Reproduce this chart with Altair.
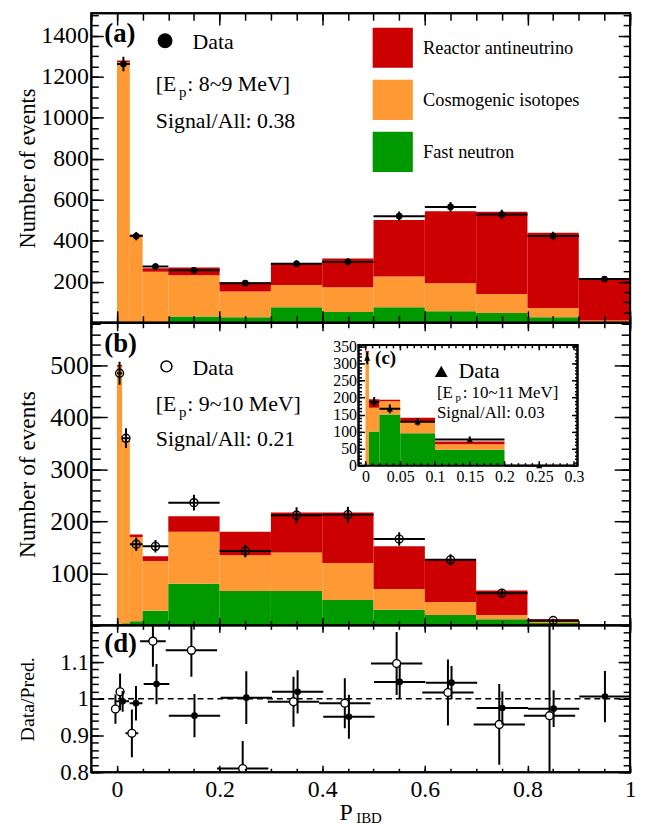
import altair as alt
import pandas as pd

SERIF = "Liberation Serif"

# ---------------- panel (a): E_p 8~9 MeV ----------------
edges_a = [0.0, 0.025, 0.05, 0.1, 0.2, 0.3, 0.4, 0.5, 0.6, 0.7, 0.8, 0.9, 1.0]
fast_a = [3, 4, 4, 30, 27, 76, 52, 76, 56, 48, 27, 4]
cosmo_a = [1268, 419, 245, 202, 125, 108, 121, 150, 137, 92, 45, 7]
reactor_a = [8, 8, 17, 38, 45, 105, 140, 275, 351, 401, 367, 202]
data_a = [1262, 423, 274, 256, 193, 288, 297, 520, 565, 528, 423, 213]
err_a = [35, 20, 16, 16, 14, 17, 17, 23, 24, 23, 21, 15]

# ---------------- panel (b): E_p 9~10 MeV ----------------
edges_b = [0.0, 0.01, 0.025, 0.05, 0.1, 0.2, 0.3, 0.4, 0.5, 0.6, 0.7, 0.8, 0.9, 1.0]
fast_b = [3, 4, 8, 28, 80, 66, 66, 49, 30, 20, 12, 4.5, 0]
cosmo_b = [495, 348, 162, 96, 100, 69, 74, 71, 40, 25, 8, 2, 0]
reactor_b = [3, 3, 5, 9, 30, 45, 77, 97, 82, 81, 47, 5.5, 0.5]
data_b = [485, 360, 156, 152, 236, 143, 212, 213, 166, 126, 62, 9.5]
err_b = [22, 19, 13, 12, 15, 12, 15, 15, 13, 11, 8, 3]

# ---------------- inset (c): E_p 10~11 MeV ----------------
edges_c = [0.0, 0.005, 0.02, 0.05, 0.1, 0.2, 0.3]
fast_c = [0, 100, 150, 95, 47, 0]
cosmo_c = [333, 70, 39, 36, 16, 0]
reactor_c = [4, 25, 5, 10, 8, 0]
data_c = [316, 188, 167, 129, 77, 0]
err_c = [18, 14, 13, 11, 9, 1]

# ---------------- panel (d): Data / Prediction ----------------
ratio_a_x = [0.011, 0.037, 0.077, 0.151, 0.252, 0.352, 0.452, 0.551, 0.652, 0.751, 0.851, 0.951]
ratio_a_xerr = [0.0125, 0.0125, 0.025, 0.05, 0.05, 0.05, 0.05, 0.05, 0.05, 0.05, 0.05, 0.05]
ratio_a = [0.993, 0.988, 1.040, 0.954, 1.003, 1.019, 0.951, 1.046, 1.044, 0.975, 0.973, 1.006]
ratio_a_err = [0.028, 0.047, 0.055, 0.059, 0.072, 0.059, 0.06, 0.046, 0.045, 0.045, 0.05, 0.07]

ratio_b_x = [-0.003, 0.006, 0.029, 0.070, 0.145, 0.245, 0.344, 0.444, 0.545, 0.645, 0.745, 0.843]
ratio_b_xerr = [0.005, 0.0075, 0.0125, 0.025, 0.05, 0.05, 0.05, 0.05, 0.05, 0.05, 0.05, 0.05]
ratio_b = [0.972, 1.019, 0.906, 1.157, 1.132, 0.810, 0.992, 0.988, 1.096, 1.017, 0.930, 0.954]
ratio_b_err = [0.04, 0.05, 0.065, 0.07, 0.072, 0.075, 0.068, 0.068, 0.086, 0.09, 0.11, 0.32]
ratio_ref = [1.0]

COMP = ["Reactor antineutrino", "Cosmogenic isotopes", "Fast neutron"]
COLORS = ["#cc0000", "#ff9933", "#009900"]

# tick values
x_major = [0, 0.2, 0.4, 0.6, 0.8, 1.0]
x_minor = [round(-0.05 + 0.05 * i, 2) for i in range(22)]
ya_major = [200, 400, 600, 800, 1000, 1200, 1400]
ya_minor = list(range(0, 1501, 50))
yb_major = [100, 200, 300, 400, 500]
yb_minor = list(range(0, 581, 20))
yd_major = [0.8, 0.9, 1.0, 1.1]
yd_minor = [round(0.8 + 0.02 * i, 2) for i in range(21)]
xc_major = [0, 0.05, 0.1, 0.15, 0.2, 0.25, 0.3]
xc_minor = [round(0.01 * i, 2) for i in range(-1, 31)]
yc_major = [0, 50, 100, 150, 200, 250, 300, 350]
yc_minor = list(range(0, 351, 10))

# ---------------- layout ----------------
W = 543
H_A, H_B, H_D = 312, 305, 148
XDOM = [-0.05, 1.0]
YDOM_A = [0, 1510]
YDOM_B = [0, 582]
YDOM_D = [0.8, 1.2]
XDOM_C = [-0.01, 0.305]
YDOM_C = [0, 355]
XR_C = [269.3, 490]
YR_C = [144, 22.3]
TITLE_X = -64.2

DUMMY = pd.DataFrame({"d": [0]})


def scale(dom, rng=None):
    if rng is None:
        return alt.Scale(domain=dom, nice=False, zero=False)
    return alt.Scale(domain=dom, range=rng, nice=False, zero=False)


def tax(orient, values, size, extra=0, **kw):
    labels = kw.pop("labels", False)
    return alt.Axis(orient=orient, values=values, tickSize=size, offset=-(size + extra),
                    labels=labels, domain=False, grid=False, ticks=True, tickColor="black",
                    tickWidth=1.5, zindex=2, **kw)


def lab_kw(fs, pad, fmt):
    return dict(labels=True, labelFont=SERIF, labelFontSize=fs, labelColor="black",
                labelPadding=pad, labelFlush=False, labelOverlap=False, format=fmt)


def carrier(xsc, ysc, xdom, ydom, xaxis, yaxis, ytitle=None):
    df = pd.DataFrame({"ax": [xdom[0]], "ay": [ydom[0]]})
    return alt.Chart(df).mark_point(opacity=0).encode(
        x=alt.X("ax:Q", scale=xsc, axis=xaxis, title=None),
        y=alt.Y("ay:Q", scale=ysc, axis=yaxis, title=ytitle),
    )


def frame(xsc, ysc, xdom, ydom, white=False):
    df = pd.DataFrame({"x0": [xdom[0]], "x1": [xdom[1]], "y0": [ydom[0]], "y1": [ydom[1]]})
    if white:
        m = alt.Chart(df).mark_rect(fill="white", stroke="black", strokeWidth=2)
    else:
        m = alt.Chart(df).mark_rect(fillOpacity=0, stroke="black", strokeWidth=2)
    return m.encode(x=alt.X("x0:Q", scale=xsc, axis=None), x2="x1",
                    y=alt.Y("y0:Q", scale=ysc, axis=None), y2="y1")


def bars(edges, fast, cosmo, reactor, xsc, ysc, legend=None):
    rows = []
    for i in range(len(fast)):
        lo, hi = edges[i], edges[i + 1]
        t1 = fast[i]
        t2 = t1 + cosmo[i]
        t3 = t2 + reactor[i]
        rows.append(dict(x0=lo, x1=hi, y0=0, y1=t1, comp=COMP[2]))
        rows.append(dict(x0=lo, x1=hi, y0=t1, y1=t2, comp=COMP[1]))
        rows.append(dict(x0=lo, x1=hi, y0=t2, y1=t3, comp=COMP[0]))
    df = pd.DataFrame(rows)
    return alt.Chart(df).mark_rect(clip=True).encode(
        x=alt.X("x0:Q", scale=xsc, axis=None), x2="x1",
        y=alt.Y("y0:Q", scale=ysc, axis=None), y2="y1",
        color=alt.Color("comp:N", scale=alt.Scale(domain=COMP, range=COLORS), legend=legend),
    )


def points(xs, xerr, vals, errs, xsc, ysc, point_kw):
    df = pd.DataFrame({
        "x": xs, "xlo": [a - b for a, b in zip(xs, xerr)], "xhi": [a + b for a, b in zip(xs, xerr)],
        "y": vals, "ylo": [a - b for a, b in zip(vals, errs)], "yhi": [a + b for a, b in zip(vals, errs)],
    })
    h = alt.Chart(df).mark_rule(color="black", strokeWidth=2, clip=True).encode(
        x=alt.X("xlo:Q", scale=xsc, axis=None), x2="xhi", y=alt.Y("y:Q", scale=ysc, axis=None))
    v = alt.Chart(df).mark_rule(color="black", strokeWidth=2, clip=True).encode(
        x=alt.X("x:Q", scale=xsc, axis=None), y=alt.Y("ylo:Q", scale=ysc, axis=None), y2="yhi")
    p = alt.Chart(df).mark_point(clip=True, opacity=1, **point_kw).encode(
        x=alt.X("x:Q", scale=xsc, axis=None), y=alt.Y("y:Q", scale=ysc, axis=None))
    return [h, v, p]


def hist_points(edges, vals, errs, xsc, ysc, point_kw):
    n = len(vals)
    xs = [(edges[i] + edges[i + 1]) / 2 for i in range(n)]
    xe = [(edges[i + 1] - edges[i]) / 2 for i in range(n)]
    return points(xs, xe, vals, errs, xsc, ysc, point_kw)


def txt(s, x, y, size, weight="normal", baseline="alphabetic", align="left"):
    return alt.Chart(DUMMY).mark_text(text=s, font=SERIF, fontSize=size, fontWeight=weight,
                                      color="black", align=align, baseline=baseline).encode(
        x=alt.value(x), y=alt.value(y))


def sym(x, y, shape, size, filled, sw=1.5):
    if filled:
        m = alt.Chart(DUMMY).mark_point(shape=shape, size=size, filled=True, color="black", opacity=1)
    else:
        m = alt.Chart(DUMMY).mark_point(shape=shape, size=size, filled=False, color="black",
                                        strokeWidth=sw, opacity=1)
    return m.encode(x=alt.value(x), y=alt.value(y))


def ep_label(x, y, size, sub, rest, p_dx, rest_dx, sub_dy):
    return [txt("[E", x, y, size), txt("p", x + p_dx, y + sub_dy, sub), txt(rest, x + rest_dx, y, size)]


def frame_axes(xsc, ysc, ydom, H, ymaj, ymin, ysz, xsz, ylab, ytitle, ytfs, xlab=None):
    maj_y = tax("left", ymaj, ysz[0], **ylab,
                titleX=TITLE_X - ysz[0], titleY=H / 2, titleAngle=-90, titleAlign="center",
                titleBaseline="middle", titleFont=SERIF, titleFontSize=ytfs,
                titleFontWeight="normal", titleColor="black")
    bx = tax("bottom", x_major, xsz[0], **(xlab or {}))
    return [
        carrier(xsc, ysc, XDOM, ydom, bx, maj_y, ytitle),
        carrier(xsc, ysc, XDOM, ydom, tax("bottom", x_minor, xsz[1]), tax("left", ymin, ysz[1])),
        carrier(xsc, ysc, XDOM, ydom, tax("top", x_major, xsz[0]), tax("right", ymaj, ysz[0])),
        carrier(xsc, ysc, XDOM, ydom, tax("top", x_minor, xsz[1]), tax("right", ymin, ysz[1])),
    ]


# ================= panel (a) =================
xs_main = scale(XDOM)
ys_a = scale(YDOM_A)
legend_a = alt.Legend(orient="none", legendX=283.3, legendY=14.3, title=None, symbolType="square",
                      symbolSize=1640, symbolStrokeWidth=0, symbolOpacity=1, labelFont=SERIF,
                      labelFontSize=18.5, labelColor="black", labelOffset=10, rowPadding=11.5,
                      padding=0, labelLimit=400)
layers_a = [bars(edges_a, fast_a, cosmo_a, reactor_a, xs_main, ys_a, legend_a)]
layers_a += hist_points(edges_a, data_a, err_a, xs_main, ys_a,
                        dict(shape="circle", filled=True, color="black", size=45))
layers_a += [
    txt("(a)", 13, 21, 27, weight="bold", baseline="middle"),
    sym(74.3, 27.7, "circle", 225, True),
    txt("Data", 102, 29.3, 22, baseline="middle"),
    *ep_label(65, 78.3, 22, 15, ": 8~9 MeV]", 23.3, 31.7, 6),
    txt("Signal/All: 0.38", 65, 116, 22),
    frame(xs_main, ys_a, XDOM, YDOM_A),
]
layers_a += frame_axes(xs_main, ys_a, YDOM_A, H_A, ya_major, ya_minor, (12, 7), (12, 7),
                       lab_kw(24, 3, "d"), "Number of events", 22.5)
panel_a = alt.layer(*layers_a).resolve_scale(x="independent", y="independent").resolve_axis(
    x="independent", y="independent").properties(width=W, height=H_A)

# ================= panel (b) + inset (c) =================
ys_b = scale(YDOM_B)
layers_b = [bars(edges_b, fast_b, cosmo_b, reactor_b, xs_main, ys_b)]
layers_b += hist_points(edges_b, data_b, err_b, xs_main, ys_b,
                        dict(shape="circle", filled=False, color="black", strokeWidth=1.4, size=64))
layers_b += [
    txt("(b)", 13, 21, 27, weight="bold", baseline="middle"),
    sym(75.7, 44, "circle", 121, False),
    txt("Data", 102, 45.7, 22, baseline="middle"),
    *ep_label(65, 89, 22, 15, ": 9~10 MeV]", 23.3, 31.7, 6),
    txt("Signal/All: 0.21", 65, 124, 22),
    frame(xs_main, ys_b, XDOM, YDOM_B),
]
layers_b += frame_axes(xs_main, ys_b, YDOM_B, H_B, yb_major, yb_minor, (16, 9), (8, 5),
                       lab_kw(26, 3, "d"), "Number of events", 23.5)

xs_c = scale(XDOM_C, XR_C)
ys_c = scale(YDOM_C, YR_C)
ex_left = XR_C[0]
ex_right = W - XR_C[1]
ex_top = YR_C[1]
ex_bottom = H_B - YR_C[0]
layers_b += [frame(xs_c, ys_c, XDOM_C, YDOM_C, white=True),
             bars(edges_c, fast_c, cosmo_c, reactor_c, xs_c, ys_c)]
layers_b += hist_points(edges_c, data_c, err_c, xs_c, ys_c,
                        dict(shape="triangle-up", filled=True, color="black", size=40))
layers_b += [
    txt("(c)", 286, 35.7, 19, weight="bold", baseline="middle"),
    sym(352.7, 49, "triangle-up", 169, True),
    txt("Data", 370, 49, 22, baseline="middle"),
    *ep_label(348.3, 75.5, 17, 11, ": 10~11 MeV]", 18.8, 26.0, 3.5),
    txt("Signal/All: 0.03", 348.3, 95.5, 17),
    frame(xs_c, ys_c, XDOM_C, YDOM_C),
    carrier(xs_c, ys_c, XDOM_C, YDOM_C,
            tax("bottom", xc_major, 5, ex_bottom, **lab_kw(16, 3, "~g")),
            tax("left", yc_major, 6, ex_left, **lab_kw(16, 2, "d"))),
    carrier(xs_c, ys_c, XDOM_C, YDOM_C,
            tax("bottom", xc_minor, 3, ex_bottom), tax("left", yc_minor, 3, ex_left)),
    carrier(xs_c, ys_c, XDOM_C, YDOM_C,
            tax("top", xc_major, 5, ex_top), tax("right", yc_major, 6, ex_right)),
    carrier(xs_c, ys_c, XDOM_C, YDOM_C,
            tax("top", xc_minor, 3, ex_top), tax("right", yc_minor, 3, ex_right)),
]
panel_b = alt.layer(*layers_b).resolve_scale(x="independent", y="independent").resolve_axis(
    x="independent", y="independent").properties(width=W, height=H_B)

# ================= panel (d) =================
ys_d = scale(YDOM_D)
ref = alt.Chart(pd.DataFrame({"r": ratio_ref})).mark_rule(
    color="black", strokeWidth=1.6, strokeDash=[6, 4]).encode(y=alt.Y("r:Q", scale=ys_d, axis=None))
layers_d = [ref]
layers_d += points(ratio_b_x, ratio_b_xerr, ratio_b, ratio_b_err, xs_main, ys_d,
                   dict(shape="circle", filled=True, fill="white", stroke="black", strokeWidth=1.4, size=64))
layers_d += points(ratio_a_x, ratio_a_xerr, ratio_a, ratio_a_err, xs_main, ys_d,
                   dict(shape="circle", filled=True, color="black", size=45))
layers_d += [
    txt("(d)", 13, 19, 27, weight="bold", baseline="middle"),
    txt("P", 250, 195.7, 24),
    txt("IBD", 267, 199, 15),
    frame(xs_main, ys_d, XDOM, YDOM_D),
]
layers_d += frame_axes(xs_main, ys_d, YDOM_D, H_D, yd_major, yd_minor, (12, 7), (7, 4),
                       lab_kw(23, 3, "~g"), "Data/Pred.", 20, xlab=lab_kw(24, 5, "~g"))
panel_d = alt.layer(*layers_d).resolve_scale(x="independent", y="independent").resolve_axis(
    x="independent", y="independent").properties(width=W, height=H_D)

chart = alt.vconcat(panel_a, panel_b, panel_d, spacing=0, bounds="flush").resolve_scale(
    x="independent", y="independent", color="independent").resolve_legend(
    color="independent").properties(
    background="white", padding={"left": 6, "top": 0, "right": 4, "bottom": 0}
).configure_view(stroke="black", strokeWidth=2)

chart.save("out.html", embed_options={"renderer": "svg", "actions": False})
